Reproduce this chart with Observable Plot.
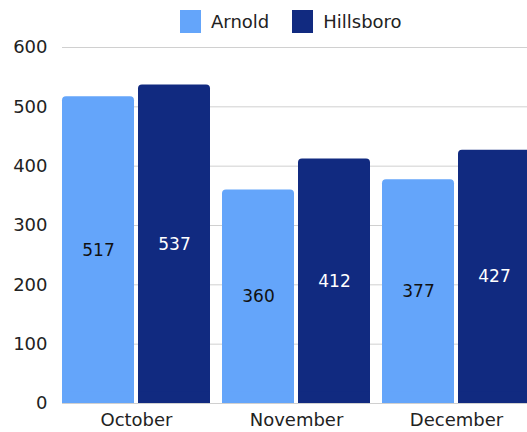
<!DOCTYPE html>
<html><head><meta charset="utf-8">
<script src="https://cdn.jsdelivr.net/npm/d3@7"></script>
<script src="https://cdn.jsdelivr.net/npm/@observablehq/plot@0.6"></script>
<style>
body{margin:0;background:#fff;font-family:"DejaVu Sans",sans-serif;overflow:hidden;}
#wrap{width:527px;height:432px;overflow:hidden;position:relative;background:#fff;}
#legend{position:absolute;top:10px;left:180px;height:23px;display:flex;align-items:center;font-size:18px;color:#222;white-space:nowrap;}
.sw{display:inline-block;width:21px;height:23px;margin-right:10px;}
.item{display:flex;align-items:center;margin-right:23px;}
#chart{position:absolute;top:36px;left:0;}
</style></head>
<body><div id="wrap"><div id="legend"></div><div id="chart"></div></div>
<script>
const months = ["October", "November", "December"];
const cities = ["Arnold", "Hillsboro"];
const arnold = [517, 360, 377];
const hillsboro = [537, 412, 427];
const colors = ["#64A5FA", "#112A80"];
const labelColors = ["#111111", "#ffffff"];
const yTicks = [0, 100, 200, 300, 400, 500, 600];

const data = [];
months.forEach((m, i) => {
  data.push({month: m, city: cities[0], value: arnold[i]});
  data.push({month: m, city: cities[1], value: hillsboro[i]});
});
const A = data.filter(d => d.city === cities[0]);
const H = data.filter(d => d.city === cities[1]);

const legend = document.getElementById("legend");
cities.forEach((c, i) => {
  const it = document.createElement("div");
  it.className = "item";
  it.innerHTML = `<span class="sw" style="background:${colors[i]}"></span><span>${c}</span>`;
  legend.appendChild(it);
});

const chart = Plot.plot({
  width: 527,
  height: 396,
  marginLeft: 62,
  marginRight: -3,
  marginTop: 11,
  marginBottom: 29,
  style: {fontFamily: "DejaVu Sans, sans-serif", fontSize: "18px", color: "#222", background: "transparent", overflow: "hidden"},
  x: {domain: months, paddingInner: 0.075, paddingOuter: 0, tickSize: 0, tickPadding: 10, label: null},
  y: {domain: [0, 600], ticks: yTicks, tickSize: 0, tickPadding: 15, label: null},
  marks: [
    Plot.ruleY(yTicks, {stroke: "#d0d0d0", strokeWidth: 1}),
    Plot.barY(A, {x: "month", y: "value", fill: colors[0], insetRight: 76, rx: 4}),
    Plot.barY(A, {x: "month", y1: 0, y2: d => Math.min(d.value, 20), fill: colors[0], insetRight: 76}),
    Plot.barY(H, {x: "month", y: "value", fill: colors[1], insetLeft: 76, rx: 4}),
    Plot.barY(H, {x: "month", y1: 0, y2: d => Math.min(d.value, 20), fill: colors[1], insetLeft: 76}),
    Plot.text(A, {x: "month", y: d => d.value / 2, text: d => String(d.value), dx: -38, fill: labelColors[0], fontSize: 17}),
    Plot.text(H, {x: "month", y: d => d.value / 2, text: d => String(d.value), dx: 38, fill: labelColors[1], fontSize: 17})
  ]
});
document.getElementById("chart").appendChild(chart);
</script></body></html>
